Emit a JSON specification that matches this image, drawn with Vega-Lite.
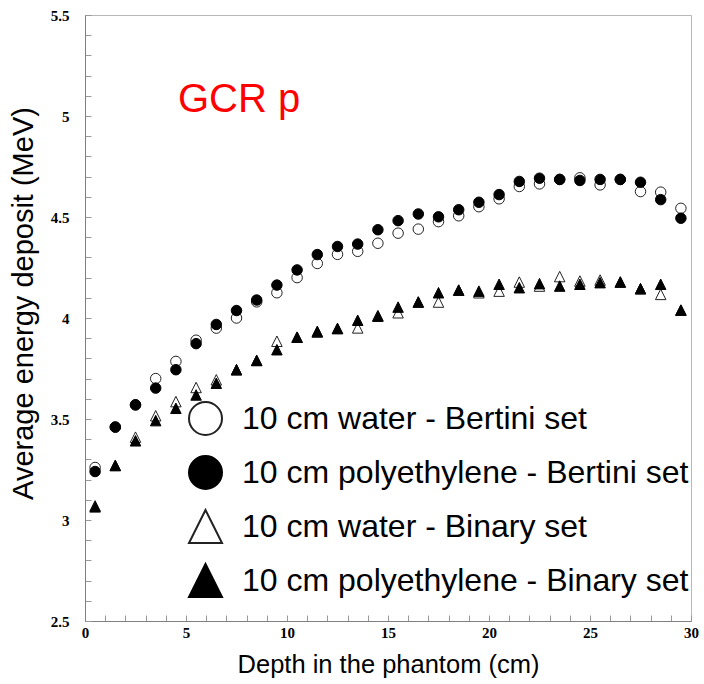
{
  "$schema": "https://vega.github.io/schema/vega-lite/v6.json",
  "width": 606,
  "height": 606,
  "autosize": {"type": "none"},
  "padding": {"left": 85, "top": 15, "right": 13, "bottom": 63},
  "background": "white",
  "config": {
    "view": {"stroke": "#b8b8b8", "strokeWidth": 1},
    "axis": {
      "grid": false,
      "domainColor": "#808080",
      "tickColor": "#999999",
      "labelFont": "Liberation Serif",
      "labelFontWeight": "bold",
      "labelFontSize": 15,
      "labelColor": "black",
      "labelOverlap": false,
      "labelFlush": false,
      "titleFont": "Liberation Sans",
      "titleFontWeight": "normal",
      "titleColor": "black"
    },
    "legend": {
      "orient": "none",
      "legendX": 103,
      "legendY": 386,
      "title": null,
      "symbolSize": 1089,
      "symbolStrokeWidth": 2,
      "symbolStrokeColor": "black",
      "labelFont": "Liberation Sans",
      "labelFontSize": 32,
      "labelColor": "black",
      "labelLimit": 600,
      "labelOffset": 19,
      "rowPadding": 13,
      "padding": 0
    }
  },
  "datasets": {
    "pts": [
      {"depth": 0.5, "energy": 3.26, "series": "10 cm water - Bertini set"},
      {"depth": 1.5, "energy": 3.46, "series": "10 cm water - Bertini set"},
      {"depth": 2.5, "energy": 3.57, "series": "10 cm water - Bertini set"},
      {"depth": 3.5, "energy": 3.70, "series": "10 cm water - Bertini set"},
      {"depth": 4.5, "energy": 3.785, "series": "10 cm water - Bertini set"},
      {"depth": 5.5, "energy": 3.89, "series": "10 cm water - Bertini set"},
      {"depth": 6.5, "energy": 3.95, "series": "10 cm water - Bertini set"},
      {"depth": 7.5, "energy": 4.00, "series": "10 cm water - Bertini set"},
      {"depth": 8.5, "energy": 4.08, "series": "10 cm water - Bertini set"},
      {"depth": 9.5, "energy": 4.125, "series": "10 cm water - Bertini set"},
      {"depth": 10.5, "energy": 4.20, "series": "10 cm water - Bertini set"},
      {"depth": 11.5, "energy": 4.27, "series": "10 cm water - Bertini set"},
      {"depth": 12.5, "energy": 4.315, "series": "10 cm water - Bertini set"},
      {"depth": 13.5, "energy": 4.33, "series": "10 cm water - Bertini set"},
      {"depth": 14.5, "energy": 4.37, "series": "10 cm water - Bertini set"},
      {"depth": 15.5, "energy": 4.42, "series": "10 cm water - Bertini set"},
      {"depth": 16.5, "energy": 4.44, "series": "10 cm water - Bertini set"},
      {"depth": 17.5, "energy": 4.477, "series": "10 cm water - Bertini set"},
      {"depth": 18.5, "energy": 4.506, "series": "10 cm water - Bertini set"},
      {"depth": 19.5, "energy": 4.551, "series": "10 cm water - Bertini set"},
      {"depth": 20.5, "energy": 4.59, "series": "10 cm water - Bertini set"},
      {"depth": 21.5, "energy": 4.651, "series": "10 cm water - Bertini set"},
      {"depth": 22.5, "energy": 4.664, "series": "10 cm water - Bertini set"},
      {"depth": 23.5, "energy": 4.686, "series": "10 cm water - Bertini set"},
      {"depth": 24.5, "energy": 4.694, "series": "10 cm water - Bertini set"},
      {"depth": 25.5, "energy": 4.659, "series": "10 cm water - Bertini set"},
      {"depth": 26.5, "energy": 4.686, "series": "10 cm water - Bertini set"},
      {"depth": 27.5, "energy": 4.626, "series": "10 cm water - Bertini set"},
      {"depth": 28.5, "energy": 4.623, "series": "10 cm water - Bertini set"},
      {"depth": 29.5, "energy": 4.543, "series": "10 cm water - Bertini set"},
      {"depth": 0.5, "energy": 3.07, "series": "10 cm water - Binary set"},
      {"depth": 1.5, "energy": 3.27, "series": "10 cm water - Binary set"},
      {"depth": 2.5, "energy": 3.41, "series": "10 cm water - Binary set"},
      {"depth": 3.5, "energy": 3.516, "series": "10 cm water - Binary set"},
      {"depth": 4.5, "energy": 3.586, "series": "10 cm water - Binary set"},
      {"depth": 5.5, "energy": 3.656, "series": "10 cm water - Binary set"},
      {"depth": 6.5, "energy": 3.694, "series": "10 cm water - Binary set"},
      {"depth": 7.5, "energy": 3.744, "series": "10 cm water - Binary set"},
      {"depth": 8.5, "energy": 3.79, "series": "10 cm water - Binary set"},
      {"depth": 9.5, "energy": 3.885, "series": "10 cm water - Binary set"},
      {"depth": 10.5, "energy": 3.905, "series": "10 cm water - Binary set"},
      {"depth": 11.5, "energy": 3.93, "series": "10 cm water - Binary set"},
      {"depth": 12.5, "energy": 3.948, "series": "10 cm water - Binary set"},
      {"depth": 13.5, "energy": 3.951, "series": "10 cm water - Binary set"},
      {"depth": 14.5, "energy": 4.012, "series": "10 cm water - Binary set"},
      {"depth": 15.5, "energy": 4.026, "series": "10 cm water - Binary set"},
      {"depth": 16.5, "energy": 4.079, "series": "10 cm water - Binary set"},
      {"depth": 17.5, "energy": 4.079, "series": "10 cm water - Binary set"},
      {"depth": 18.5, "energy": 4.138, "series": "10 cm water - Binary set"},
      {"depth": 19.5, "energy": 4.125, "series": "10 cm water - Binary set"},
      {"depth": 20.5, "energy": 4.133, "series": "10 cm water - Binary set"},
      {"depth": 21.5, "energy": 4.178, "series": "10 cm water - Binary set"},
      {"depth": 22.5, "energy": 4.158, "series": "10 cm water - Binary set"},
      {"depth": 23.5, "energy": 4.205, "series": "10 cm water - Binary set"},
      {"depth": 24.5, "energy": 4.183, "series": "10 cm water - Binary set"},
      {"depth": 25.5, "energy": 4.188, "series": "10 cm water - Binary set"},
      {"depth": 26.5, "energy": 4.178, "series": "10 cm water - Binary set"},
      {"depth": 27.5, "energy": 4.145, "series": "10 cm water - Binary set"},
      {"depth": 28.5, "energy": 4.117, "series": "10 cm water - Binary set"},
      {"depth": 29.5, "energy": 4.039, "series": "10 cm water - Binary set"},
      {"depth": 0.5, "energy": 3.24, "series": "10 cm polyethylene - Bertini set"},
      {"depth": 1.5, "energy": 3.46, "series": "10 cm polyethylene - Bertini set"},
      {"depth": 2.5, "energy": 3.57, "series": "10 cm polyethylene - Bertini set"},
      {"depth": 3.5, "energy": 3.653, "series": "10 cm polyethylene - Bertini set"},
      {"depth": 4.5, "energy": 3.744, "series": "10 cm polyethylene - Bertini set"},
      {"depth": 5.5, "energy": 3.873, "series": "10 cm polyethylene - Bertini set"},
      {"depth": 6.5, "energy": 3.968, "series": "10 cm polyethylene - Bertini set"},
      {"depth": 7.5, "energy": 4.037, "series": "10 cm polyethylene - Bertini set"},
      {"depth": 8.5, "energy": 4.089, "series": "10 cm polyethylene - Bertini set"},
      {"depth": 9.5, "energy": 4.163, "series": "10 cm polyethylene - Bertini set"},
      {"depth": 10.5, "energy": 4.238, "series": "10 cm polyethylene - Bertini set"},
      {"depth": 11.5, "energy": 4.314, "series": "10 cm polyethylene - Bertini set"},
      {"depth": 12.5, "energy": 4.354, "series": "10 cm polyethylene - Bertini set"},
      {"depth": 13.5, "energy": 4.366, "series": "10 cm polyethylene - Bertini set"},
      {"depth": 14.5, "energy": 4.437, "series": "10 cm polyethylene - Bertini set"},
      {"depth": 15.5, "energy": 4.482, "series": "10 cm polyethylene - Bertini set"},
      {"depth": 16.5, "energy": 4.515, "series": "10 cm polyethylene - Bertini set"},
      {"depth": 17.5, "energy": 4.501, "series": "10 cm polyethylene - Bertini set"},
      {"depth": 18.5, "energy": 4.536, "series": "10 cm polyethylene - Bertini set"},
      {"depth": 19.5, "energy": 4.573, "series": "10 cm polyethylene - Bertini set"},
      {"depth": 20.5, "energy": 4.611, "series": "10 cm polyethylene - Bertini set"},
      {"depth": 21.5, "energy": 4.676, "series": "10 cm polyethylene - Bertini set"},
      {"depth": 22.5, "energy": 4.692, "series": "10 cm polyethylene - Bertini set"},
      {"depth": 23.5, "energy": 4.686, "series": "10 cm polyethylene - Bertini set"},
      {"depth": 24.5, "energy": 4.681, "series": "10 cm polyethylene - Bertini set"},
      {"depth": 25.5, "energy": 4.686, "series": "10 cm polyethylene - Bertini set"},
      {"depth": 26.5, "energy": 4.686, "series": "10 cm polyethylene - Bertini set"},
      {"depth": 27.5, "energy": 4.672, "series": "10 cm polyethylene - Bertini set"},
      {"depth": 28.5, "energy": 4.586, "series": "10 cm polyethylene - Bertini set"},
      {"depth": 29.5, "energy": 4.494, "series": "10 cm polyethylene - Bertini set"},
      {"depth": 0.5, "energy": 3.065, "series": "10 cm polyethylene - Binary set"},
      {"depth": 1.5, "energy": 3.27, "series": "10 cm polyethylene - Binary set"},
      {"depth": 2.5, "energy": 3.392, "series": "10 cm polyethylene - Binary set"},
      {"depth": 3.5, "energy": 3.492, "series": "10 cm polyethylene - Binary set"},
      {"depth": 4.5, "energy": 3.553, "series": "10 cm polyethylene - Binary set"},
      {"depth": 5.5, "energy": 3.619, "series": "10 cm polyethylene - Binary set"},
      {"depth": 6.5, "energy": 3.677, "series": "10 cm polyethylene - Binary set"},
      {"depth": 7.5, "energy": 3.744, "series": "10 cm polyethylene - Binary set"},
      {"depth": 8.5, "energy": 3.79, "series": "10 cm polyethylene - Binary set"},
      {"depth": 9.5, "energy": 3.843, "series": "10 cm polyethylene - Binary set"},
      {"depth": 10.5, "energy": 3.905, "series": "10 cm polyethylene - Binary set"},
      {"depth": 11.5, "energy": 3.934, "series": "10 cm polyethylene - Binary set"},
      {"depth": 12.5, "energy": 3.948, "series": "10 cm polyethylene - Binary set"},
      {"depth": 13.5, "energy": 3.989, "series": "10 cm polyethylene - Binary set"},
      {"depth": 14.5, "energy": 4.009, "series": "10 cm polyethylene - Binary set"},
      {"depth": 15.5, "energy": 4.054, "series": "10 cm polyethylene - Binary set"},
      {"depth": 16.5, "energy": 4.079, "series": "10 cm polyethylene - Binary set"},
      {"depth": 17.5, "energy": 4.125, "series": "10 cm polyethylene - Binary set"},
      {"depth": 18.5, "energy": 4.138, "series": "10 cm polyethylene - Binary set"},
      {"depth": 19.5, "energy": 4.133, "series": "10 cm polyethylene - Binary set"},
      {"depth": 20.5, "energy": 4.167, "series": "10 cm polyethylene - Binary set"},
      {"depth": 21.5, "energy": 4.15, "series": "10 cm polyethylene - Binary set"},
      {"depth": 22.5, "energy": 4.17, "series": "10 cm polyethylene - Binary set"},
      {"depth": 23.5, "energy": 4.158, "series": "10 cm polyethylene - Binary set"},
      {"depth": 24.5, "energy": 4.167, "series": "10 cm polyethylene - Binary set"},
      {"depth": 25.5, "energy": 4.175, "series": "10 cm polyethylene - Binary set"},
      {"depth": 26.5, "energy": 4.178, "series": "10 cm polyethylene - Binary set"},
      {"depth": 27.5, "energy": 4.145, "series": "10 cm polyethylene - Binary set"},
      {"depth": 28.5, "energy": 4.167, "series": "10 cm polyethylene - Binary set"},
      {"depth": 29.5, "energy": 4.039, "series": "10 cm polyethylene - Binary set"}
    ],
    "note": [{"label": "GCR p"}]
  },
  "layer": [
    {
      "data": {"name": "pts"},
      "mark": {"type": "point", "filled": true, "opacity": 1, "size": 110, "strokeWidth": 1},
      "encoding": {
        "x": {
          "field": "depth", "type": "quantitative",
          "scale": {"domain": [0, 30], "nice": false, "zero": false},
          "axis": {
            "orient": "bottom",
            "values": [0,1,2,3,4,5,6,7,8,9,10,11,12,13,14,15,16,17,18,19,20,21,22,23,24,25,26,27,28,29,30],
            "tickCount": 60,
            "format": "~g",
            "labelExpr": "datum.value % 5 === 0 ? datum.label : ''",
            "labelOverlap": false,
            "labelFlush": false,
            "labelBound": false,
            "tickSize": -6,
            "labelPadding": 10,
            "title": "Depth in the phantom (cm)",
            "titleFontSize": 25.5,
            "titlePadding": 12,
            "encode": {"ticks": {"update": {"y2": {"signal": "datum.value % 5 === 0 ? -11 : -6"}}}}
          }
        },
        "y": {
          "field": "energy", "type": "quantitative",
          "scale": {"domain": [2.5, 5.5], "nice": false, "zero": false},
          "axis": {
            "orient": "left",
            "values": [2.5,2.6,2.7,2.8,2.9,3,3.1,3.2,3.3,3.4,3.5,3.6,3.7,3.8,3.9,4,4.1,4.2,4.3,4.4,4.5,4.6,4.7,4.8,4.9,5,5.1,5.2,5.3,5.4,5.5],
            "tickCount": 60,
            "format": "~g",
            "labelExpr": "abs(datum.value * 2 - round(datum.value * 2)) < 0.001 ? datum.label : ''",
            "labelOverlap": false,
            "labelFlush": false,
            "labelBound": false,
            "tickSize": -6,
            "labelPadding": 22,
            "title": "Average energy deposit (MeV)",
            "titleFontSize": 29,
            "titlePadding": 12,
            "titleY": 288,
            "encode": {"ticks": {"update": {"x2": {"signal": "abs(datum.value * 2 - round(datum.value * 2)) < 0.001 ? 11 : 6"}}}}
          }
        },
        "shape": {
          "field": "series", "type": "nominal",
          "scale": {
            "domain": ["10 cm water - Bertini set", "10 cm polyethylene - Bertini set", "10 cm water - Binary set", "10 cm polyethylene - Binary set"],
            "range": ["circle", "circle", "M0,-1L-1,1L1,1Z", "M0,-1L-1,1L1,1Z"]
          }
        },
        "fill": {
          "field": "series", "type": "nominal",
          "scale": {
            "domain": ["10 cm water - Bertini set", "10 cm polyethylene - Bertini set", "10 cm water - Binary set", "10 cm polyethylene - Binary set"],
            "range": ["white", "black", "white", "black"]
          }
        },
        "stroke": {
          "field": "series", "type": "nominal",
          "scale": {
            "domain": ["10 cm water - Bertini set", "10 cm polyethylene - Bertini set", "10 cm water - Binary set", "10 cm polyethylene - Binary set"],
            "range": ["#222222", "black", "#222222", "black"]
          }
        }
      }
    },
    {
      "data": {"name": "note"},
      "mark": {"type": "text", "font": "Liberation Sans", "fontSize": 40, "color": "#ff0000", "align": "left", "baseline": "middle"},
      "encoding": {
        "text": {"field": "label"},
        "x": {"datum": 4.6, "type": "quantitative"},
        "y": {"datum": 5.08, "type": "quantitative"}
      }
    }
  ]
}
